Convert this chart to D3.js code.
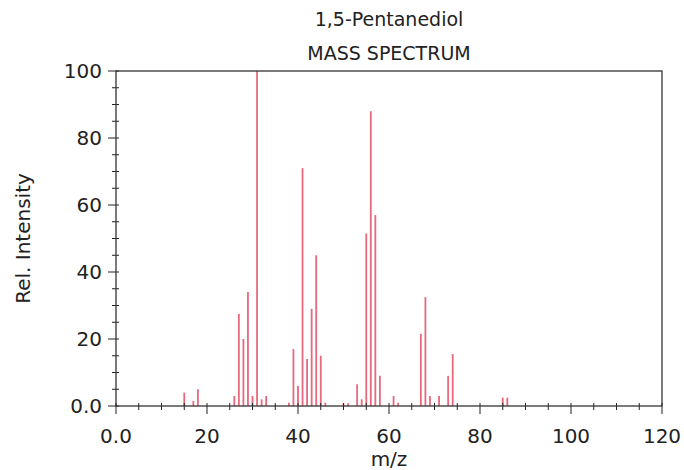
<!DOCTYPE html>
<html>
<head>
<meta charset="utf-8">
<script src="https://cdn.jsdelivr.net/npm/d3@7"></script>
<style>
  body { margin: 0; background: #fff; }
  text { font-family: "DejaVu Sans", sans-serif; fill: #222; }
</style>
</head>
<body>
<div id="chart"></div>
<script>
// peak positions (m/z) and relative intensities
const mz = [15, 17, 18, 26, 27, 28, 29, 30, 31, 32, 33, 38, 39, 40, 41, 42, 43, 44, 45, 46,
            50, 51, 53, 54, 55, 56, 57, 58, 61, 62, 67, 68, 69, 71, 73, 74, 85, 86];
const intensity = [4, 1.5, 5, 3, 27.5, 20, 34, 3, 100, 2, 3, 1, 17, 6, 71, 14, 29, 45, 15, 1,
                   0.8, 0.8, 6.5, 2, 51.5, 88, 57, 9, 3, 1, 21.5, 32.5, 3, 3, 9, 15.5, 2.5, 2.5];
const xTicks = [0, 20, 40, 60, 80, 100, 120];
const yTicks = [0, 20, 40, 60, 80, 100];

const margin = { top: 71, right: 22, bottom: 64, left: 116 },
    width = 684 - margin.left - margin.right,
    height = 470 - margin.top - margin.bottom;

const svg = d3.select("#chart")
    .append("svg")
    .attr("width", 684)
    .attr("height", 470);

const g = svg.append("g")
    .attr("transform", `translate(${margin.left},${margin.top})`);

const x = d3.scaleLinear().domain([0, 120]).range([0, width]);
const y = d3.scaleLinear().domain([0, 100]).range([height, 0]);

// peaks
g.selectAll(".peak")
    .data(mz.map((m, i) => ({ m: m, v: intensity[i] })))
    .enter().append("line")
    .attr("class", "peak")
    .attr("x1", d => x(d.m))
    .attr("x2", d => x(d.m))
    .attr("y1", y(0))
    .attr("y2", d => y(d.v))
    .attr("stroke", "#e8687c")
    .attr("stroke-width", 1.8);

// minor ticks every 5, major every 20
const tickColor = "#222";
g.selectAll(".xminor")
    .data(d3.range(0, 121, 5))
    .enter().append("line")
    .attr("x1", d => x(d)).attr("x2", d => x(d))
    .attr("y1", height - 3).attr("y2", d => height + (d % 20 === 0 ? 8 : 4))
    .attr("stroke", tickColor);

g.selectAll(".yminor")
    .data(d3.range(0, 101, 5))
    .enter().append("line")
    .attr("y1", d => y(d)).attr("y2", d => y(d))
    .attr("x1", d => (d % 20 === 0 ? -8 : -4)).attr("x2", 3)
    .attr("stroke", tickColor);

// frame
g.append("rect")
    .attr("width", width)
    .attr("height", height)
    .attr("fill", "none")
    .attr("stroke", "#333")
    .attr("stroke-width", 1.3);

// tick labels
g.selectAll(".xlab")
    .data(xTicks)
    .enter().append("text")
    .attr("x", d => x(d))
    .attr("y", height + 37)
    .attr("text-anchor", "middle")
    .style("font-size", "20px")
    .text(d => d === 0 ? "0.0" : d);

g.selectAll(".ylab")
    .data(yTicks)
    .enter().append("text")
    .attr("x", -14)
    .attr("y", d => y(d) + 7)
    .attr("text-anchor", "end")
    .style("font-size", "20px")
    .text(d => d === 0 ? "0.0" : d);

// axis titles
g.append("text")
    .attr("x", width / 2)
    .attr("y", height + 60)
    .attr("text-anchor", "middle")
    .style("font-size", "20px")
    .text("m/z");

g.append("text")
    .attr("transform", "rotate(-90)")
    .attr("x", -height / 2)
    .attr("y", -86)
    .attr("text-anchor", "middle")
    .style("font-size", "20px")
    .text("Rel. Intensity");

// title
svg.append("text")
    .attr("x", margin.left + width / 2)
    .attr("y", 26)
    .attr("text-anchor", "middle")
    .style("font-size", "19px")
    .text("1,5-Pentanediol");

svg.append("text")
    .attr("x", margin.left + width / 2)
    .attr("y", 60)
    .attr("text-anchor", "middle")
    .style("font-size", "19px")
    .text("MASS SPECTRUM");
</script>
</body>
</html>
